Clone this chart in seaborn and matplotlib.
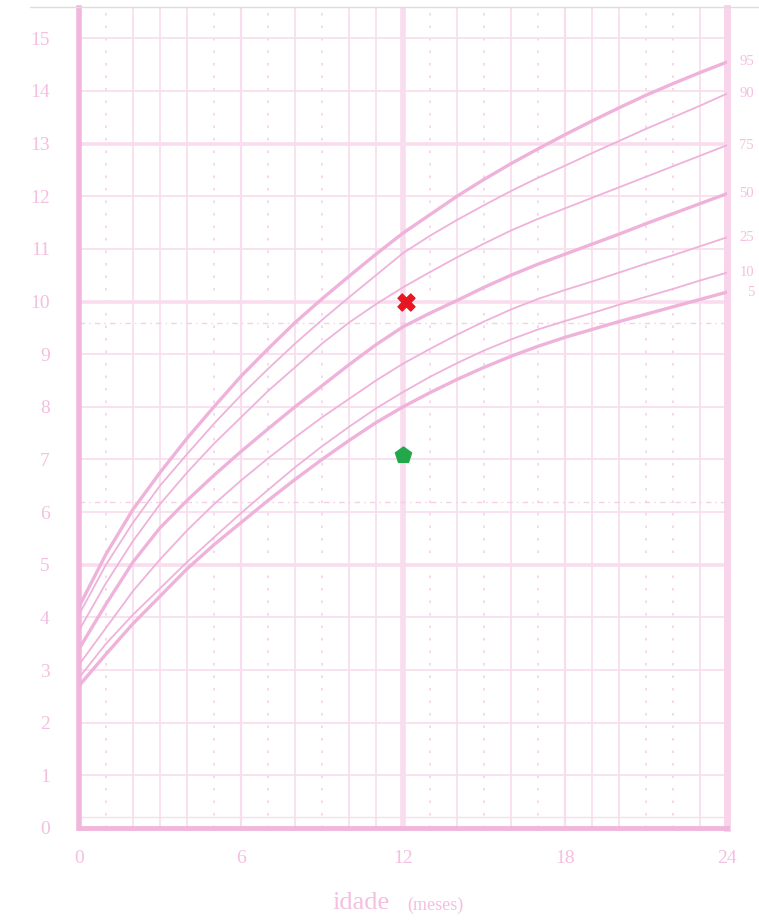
import matplotlib
matplotlib.use("Agg")
import matplotlib.pyplot as plt
import seaborn as sns
import pandas as pd
from matplotlib.lines import Line2D

# ---- data ----
months = list(range(0, 25))
p95 = [4.2, 5.2, 6.05, 6.75, 7.4, 8.0, 8.58, 9.1, 9.6, 10.05, 10.48, 10.9, 11.3, 11.65, 12.0, 12.32,
       12.62, 12.9, 13.17, 13.43, 13.68, 13.92, 14.14, 14.35, 14.55]
p90 = [4.05, 5.0, 5.8, 6.5, 7.1, 7.68, 8.22, 8.72, 9.2, 9.65, 10.08, 10.5, 10.92, 11.25, 11.55, 11.83,
       12.1, 12.35, 12.58, 12.82, 13.05, 13.28, 13.5, 13.72, 13.95]
p75 = [3.75, 4.65, 5.45, 6.15, 6.75, 7.3, 7.8, 8.3, 8.75, 9.2, 9.6, 9.95, 10.27, 10.56, 10.84, 11.1,
       11.35, 11.57, 11.77, 11.97, 12.17, 12.37, 12.57, 12.77, 12.97]
p50 = [3.4, 4.25, 5.05, 5.7, 6.22, 6.7, 7.15, 7.58, 8.0, 8.4, 8.8, 9.18, 9.52, 9.78, 10.02, 10.27,
       10.5, 10.71, 10.9, 11.09, 11.28, 11.48, 11.67, 11.86, 12.05]
p25 = [3.1, 3.8, 4.5, 5.1, 5.65, 6.15, 6.6, 7.02, 7.42, 7.8, 8.15, 8.5, 8.82, 9.1, 9.37, 9.62,
       9.85, 10.05, 10.22, 10.38, 10.55, 10.72, 10.88, 11.05, 11.22]
p10 = [2.85, 3.5, 4.05, 4.55, 5.05, 5.52, 5.98, 6.42, 6.85, 7.25, 7.62, 7.97, 8.28, 8.57, 8.83, 9.07,
       9.28, 9.47, 9.63, 9.78, 9.94, 10.09, 10.24, 10.4, 10.55]
p05 = [2.7, 3.3, 3.88, 4.4, 4.92, 5.38, 5.8, 6.22, 6.62, 7.0, 7.36, 7.7, 8.0, 8.27, 8.52, 8.75,
       8.96, 9.15, 9.32, 9.47, 9.62, 9.76, 9.9, 10.04, 10.18]
percentile_names = ["95", "90", "75", "50", "25", "10", "5"]
percentile_series = [p95, p90, p75, p50, p25, p10, p05]
thick_percentiles = ["95", "50", "5"]

point_age = [12.1, 12.0]
point_weight = [10.0, 7.08]
point_colors = ["#e8161e", "#22a84a"]

x_ticks = [0, 6, 12, 18, 24]
y_ticks = list(range(0, 16))

# ---- style ----
sns.set_theme(style="white")
plt.rcParams["font.family"] = ["Liberation Serif", "DejaVu Serif"]

CURVE = "#efb2da"
GRID = "#f9dcee"
GRID2 = "#f6cfe7"
TEXT = "#f4bfe0"
SPINE = "#f0b6db"

fig = plt.figure(figsize=(7.59, 9.21), dpi=100)
ax = fig.add_axes([0.104, 0.101, 0.854, 0.890])

# grid
solid_v = [2, 3, 4, 8, 10, 11, 14, 16, 19, 20, 23]
for xv in solid_v:
    ax.axvline(xv, color=GRID, lw=1.2, zorder=1)
for xv in [6, 18]:
    ax.axvline(xv, color=GRID, lw=1.6, zorder=1)
ax.axvline(12, color=GRID, lw=4.0, zorder=1)
dotted_v = [1, 5, 7, 9, 13, 15, 17, 21, 22]
for xv in dotted_v:
    ax.axvline(xv, color=GRID2, lw=1.2, ls=(0, (1.5, 6)), zorder=1)
for yv in range(1, 16):
    lw = 2.6 if yv in (5, 10, 13) else 1.2
    ax.axhline(yv, color=GRID, lw=lw, zorder=1)
ax.axhline(0.2, color=GRID, lw=1.0, zorder=1)
for yv in [9.6, 6.2]:
    ax.axhline(yv, color=GRID2, lw=1.0, ls=(0, (4, 3, 1, 3)), zorder=1)

# percentile curves
rows = []
for name, vals in zip(percentile_names, percentile_series):
    for m, v in zip(months, vals):
        rows.append({"idade": m, "peso": v, "percentil": name})
df = pd.DataFrame(rows)
for name in percentile_names:
    sub = df[df["percentil"] == name]
    ln = sns.lineplot(data=sub, x="idade", y="peso", ax=ax, color=CURVE,
                      lw=2.4 if name in thick_percentiles else 1.3, zorder=3,
                      estimator=None, sort=True)
    endv = sub["peso"].iloc[-1]
    ax.text(24.45 if name != "5" else 24.75, endv, name, color=TEXT,
            fontsize=10.5, va="center", ha="left", clip_on=False)
for line in ax.get_lines():
    line.set_solid_joinstyle("round")
    line.set_solid_capstyle("round")

# points
pts = pd.DataFrame({"idade": point_age, "peso": point_weight})
sns.scatterplot(data=pts.iloc[[0]], x="idade", y="peso", ax=ax, marker="X",
                s=150, color=point_colors[0], edgecolor=point_colors[0], zorder=5)
sns.scatterplot(data=pts.iloc[[1]], x="idade", y="peso", ax=ax, marker="p",
                s=150, color=point_colors[1], edgecolor=point_colors[1], zorder=5)

ax.set_xlim(0, 24)
ax.set_ylim(0, 15.57)
ax.set_xticks(x_ticks)
ax.set_yticks(y_ticks)
ax.set_xticklabels([str(t) for t in x_ticks])
ax.set_yticklabels([str(t) for t in y_ticks])
ax.tick_params(axis="both", colors=SPINE, labelcolor=TEXT, labelsize=14)
ax.tick_params(axis="y", length=14, width=3.5, direction="out", pad=7)
ax.tick_params(axis="x", length=10, width=3.5, direction="out", pad=6)
ax.set_xlabel("")
ax.set_ylabel("")

ax.spines["top"].set_visible(False)
ax.spines["left"].set_color(SPINE)
ax.spines["left"].set_linewidth(4)
ax.spines["bottom"].set_color(SPINE)
ax.spines["bottom"].set_linewidth(3.5)
ax.spines["right"].set_color("#f8d4ea")
ax.spines["right"].set_linewidth(5)

# top grey rule
fig.add_artist(Line2D([0.04, 1.0], [1 - 7 / 921, 1 - 7 / 921], color="#dddddd", lw=1.0))

fig.text(0.438, 0.008, "idade", color=TEXT, fontsize=19, ha="left", va="bottom")
fig.text(0.537, 0.008, "(meses)", color=TEXT, fontsize=13, ha="left", va="bottom")

fig.savefig("out.png", dpi=100)
